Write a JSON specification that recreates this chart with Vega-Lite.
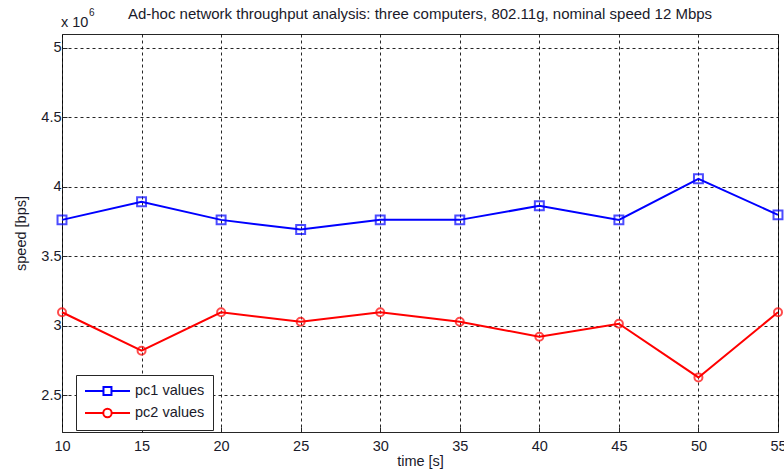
{
  "$schema": "https://vega.github.io/schema/vega-lite/v6.json",
  "autosize": "none",
  "padding": {"left": 62, "top": 34, "right": 6, "bottom": 43},
  "width": 716,
  "height": 398,
  "background": "white",
  "title": {
    "text": "Ad-hoc network throughput analysis: three computers, 802.11g, nominal speed 12 Mbps",
    "font": "Liberation Sans",
    "fontSize": 15,
    "fontWeight": "normal",
    "color": "#1a1a2a",
    "anchor": "middle",
    "offset": -14
  },
  "data": {
    "values": [
      {"time": 10, "speed": 3762000, "series": "pc1 values"},
      {"time": 15, "speed": 3892000, "series": "pc1 values"},
      {"time": 20, "speed": 3762000, "series": "pc1 values"},
      {"time": 25, "speed": 3692000, "series": "pc1 values"},
      {"time": 30, "speed": 3762000, "series": "pc1 values"},
      {"time": 35, "speed": 3762000, "series": "pc1 values"},
      {"time": 40, "speed": 3863000, "series": "pc1 values"},
      {"time": 45, "speed": 3762000, "series": "pc1 values"},
      {"time": 50, "speed": 4058000, "series": "pc1 values"},
      {"time": 55, "speed": 3798000, "series": "pc1 values"},
      {"time": 10, "speed": 3097000, "series": "pc2 values"},
      {"time": 15, "speed": 2820000, "series": "pc2 values"},
      {"time": 20, "speed": 3097000, "series": "pc2 values"},
      {"time": 25, "speed": 3028000, "series": "pc2 values"},
      {"time": 30, "speed": 3097000, "series": "pc2 values"},
      {"time": 35, "speed": 3028000, "series": "pc2 values"},
      {"time": 40, "speed": 2921000, "series": "pc2 values"},
      {"time": 45, "speed": 3014000, "series": "pc2 values"},
      {"time": 50, "speed": 2628000, "series": "pc2 values"},
      {"time": 55, "speed": 3097000, "series": "pc2 values"}
    ]
  },
  "layer": [
    {
      "mark": {"type": "line", "strokeWidth": 2, "clip": false},
      "encoding": {
        "x": {
          "field": "time",
          "type": "quantitative",
          "scale": {"domain": [10, 55], "nice": false, "zero": false},
          "axis": {
            "title": "time [s]",
            "values": [10, 15, 20, 25, 30, 35, 40, 45, 50, 55],
            "grid": true,
            "gridColor": "#000",
            "gridDash": [3, 3],
            "gridOpacity": 0.85,
            "domain": false,
            "tickSize": -5,
            "tickColor": "#262626",
            "labelFont": "Liberation Sans",
            "labelFontSize": 14.5,
            "labelColor": "#1a1a2a",
            "labelPadding": 12,
            "labelFlush": false,
            "titleFont": "Liberation Sans",
            "titleFontSize": 14.5,
            "titleFontWeight": "normal",
            "titleColor": "#1a1a2a",
            "titlePadding": 2
          }
        },
        "y": {
          "field": "speed",
          "type": "quantitative",
          "scale": {"domain": [2235000, 5100000], "nice": false, "zero": false},
          "axis": {
            "title": "speed [bps]",
            "values": [2500000, 3000000, 3500000, 4000000, 4500000, 5000000],
            "labelExpr": "format(datum.value / 1000000, '~g')",
            "grid": true,
            "gridColor": "#000",
            "gridDash": [3, 3],
            "gridOpacity": 0.85,
            "domain": false,
            "tickSize": -5,
            "tickColor": "#262626",
            "labelFont": "Liberation Sans",
            "labelFontSize": 14.5,
            "labelColor": "#1a1a2a",
            "labelPadding": 6,
            "titleFont": "Liberation Sans",
            "titleFontSize": 14.5,
            "titleFontWeight": "normal",
            "titleColor": "#1a1a2a",
            "titlePadding": 12
          }
        },
        "color": {
          "field": "series",
          "type": "nominal",
          "scale": {"domain": ["pc1 values", "pc2 values"], "range": ["#0000ff", "#ff0000"]},
          "legend": {
            "orient": "none",
            "legendX": 14,
            "legendY": 341,
            "title": null,
            "strokeColor": "#262626",
            "fillColor": "white",
            "padding": 8,
            "rowPadding": 5,
            "symbolSize": 196,
            "symbolStrokeWidth": 2,
            "labelFont": "Liberation Sans",
            "labelFontSize": 14.5,
            "labelColor": "#1a1a2a",
            "labelOffset": 35,
            "encode": {
              "symbols": {
                "update": {
                  "shape": {"signal": "datum.value === 'pc1 values' ? 'M-1,0H1.64M2.78,0H5.43M1.64,-0.57H2.78V0.57H1.64Z' : 'M-1,0H1.61M2.81,0H5.43M2.81,0A0.6,0.6 0 1 1 1.61,0A0.6,0.6 0 1 1 2.81,0'"},
                  "fill": {"value": "transparent"}
                }
              }
            }
          }
        }
      }
    },
    {
      "transform": [{"filter": "datum.series === 'pc1 values'"}],
      "mark": {"type": "point", "shape": "square", "filled": false, "strokeWidth": 2, "clip": false, "size": 80, "color": "#0000ff"},
      "encoding": {
        "x": {"field": "time", "type": "quantitative"},
        "y": {"field": "speed", "type": "quantitative"}
      }
    },
    {
      "transform": [{"filter": "datum.series === 'pc2 values'"}],
      "mark": {"type": "point", "shape": "circle", "filled": false, "strokeWidth": 2, "clip": false, "size": 64, "color": "#ff0000"},
      "encoding": {
        "x": {"field": "time", "type": "quantitative"},
        "y": {"field": "speed", "type": "quantitative"}
      }
    },
    {
      "data": {"values": [{"time": 10, "speed": 5100000, "label": "x 10"}]},
      "mark": {"type": "text", "align": "left", "baseline": "alphabetic", "dx": -1, "dy": -7, "font": "Liberation Sans", "fontSize": 14.5, "color": "#1a1a2a", "clip": false},
      "encoding": {
        "x": {"field": "time", "type": "quantitative"},
        "y": {"field": "speed", "type": "quantitative"},
        "text": {"field": "label", "type": "nominal"}
      }
    },
    {
      "data": {"values": [{"time": 10, "speed": 5100000, "label": "6"}]},
      "mark": {"type": "text", "align": "left", "baseline": "alphabetic", "dx": 27, "dy": -18, "font": "Liberation Sans", "fontSize": 10, "color": "#1a1a2a", "clip": false},
      "encoding": {
        "x": {"field": "time", "type": "quantitative"},
        "y": {"field": "speed", "type": "quantitative"},
        "text": {"field": "label", "type": "nominal"}
      }
    }
  ],
  "config": {
    "view": {"stroke": "#262626", "strokeWidth": 1}
  }
}
